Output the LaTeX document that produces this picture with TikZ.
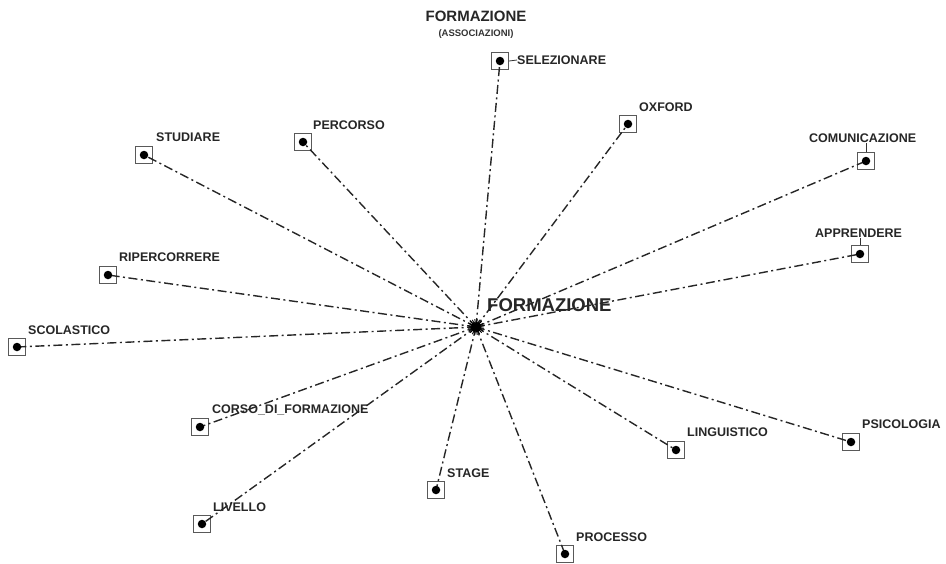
\documentclass[tikz,border=0pt]{standalone}
\usepackage{fontspec}
\setmainfont{Liberation Sans}
\begin{document}
\begin{tikzpicture}[x=1pt,y=-1pt,
  conn/.style={line width=1.4pt, draw=black!85, dash pattern=on 9pt off 3.5pt on 2pt off 3.5pt},
  term/.style={draw=black!65, line width=1.1pt, minimum size=17pt, inner sep=0pt},
  lbl/.style={font=\bfseries\fontsize{12.5}{14}\selectfont, anchor=west, inner sep=0pt, text=black!85},
  dotc/.style={circle, fill=black, minimum size=8.5pt, inner sep=0pt},
  leader/.style={line width=0.8pt, draw=black!80}]
\useasboundingbox (0,0) rectangle (946,563);

% titles
\node[font=\bfseries\fontsize{15}{17}\selectfont, text=black!85] (title) at (476,16) {FORMAZIONE};
\node[font=\bfseries\fontsize{9.5}{11}\selectfont, text=black!80] (sub) at (476,34) {(ASSOCIAZIONI)};

% hub
\coordinate (hub) at (476,327);

% terminal boxes
\node[term] (sel) at (500,61) {};
\node[term] (oxf) at (628,124) {};
\node[term] (com) at (866,161) {};
\node[term] (app) at (860,254) {};
\node[term] (psi) at (851,442) {};
\node[term] (lin) at (676,450) {};
\node[term] (pro) at (565,554) {};
\node[term] (sta) at (436,490) {};
\node[term] (liv) at (202,524) {};
\node[term] (cor) at (200,427) {};
\node[term] (sco) at (17,347) {};
\node[term] (rip) at (108,275) {};
\node[term] (stu) at (144,155) {};
\node[term] (per) at (303,142) {};

% connectors
\foreach \n in {sel,oxf,com,app,psi,lin,pro,sta,liv,cor,sco,rip,stu,per}
  \draw[conn] (hub) -- (\n.center);

% labels
\node[lbl, font=\bfseries\fontsize{18.5}{20}\selectfont] (hublbl) at (487,305) {FORMAZIONE};
\node[lbl] (sell) at (517,60) {SELEZIONARE};
\node[lbl] (oxfl) at (639,107) {OXFORD};
\node[lbl] (coml) at (809,138) {COMUNICAZIONE};
\node[lbl] (appl) at (815,233) {APPRENDERE};
\node[lbl] (psil) at (862,424) {PSICOLOGIA};
\node[lbl] (linl) at (687,432) {LINGUISTICO};
\node[lbl] (prol) at (576,537) {PROCESSO};
\node[lbl] (stal) at (447,473) {STAGE};
\node[lbl] (livl) at (213,507) {LIVELLO};
\node[lbl] (corl) at (212,410) {CORSO\_DI\_FORMAZIONE};
\node[lbl] (scol) at (28,330) {SCOLASTICO};
\node[lbl] (ripl) at (119,257) {RIPERCORRERE};
\node[lbl] (stul) at (156,137) {STUDIARE};
\node[lbl] (perl) at (313,125) {PERCORSO};

% leaders
\draw[leader] (sel.east) -- (sell.west);
\draw[leader] (com.north) -- (com.north |- coml.south);
\draw[leader] (app.north) -- (app.north |- appl.south);

% dots
\foreach \n in {sel,oxf,com,app,psi,lin,pro,sta,liv,cor,sco,rip,stu,per}
  \node[dotc] at (\n.center) {};

% hub starburst
\foreach \a in {0,9,...,359}
  \draw[line width=0.9pt, black] (hub) -- ++(\a:{5+mod(\a,6)});
\fill[black] (hub) circle (4pt);
\end{tikzpicture}
\end{document}
